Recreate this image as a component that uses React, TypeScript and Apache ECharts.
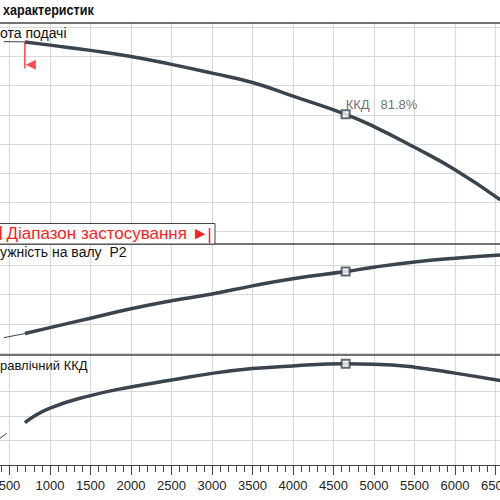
import { useEffect, useRef } from 'react'
import * as echarts from 'echarts'

// flow along the bottom axis, one value per curve point
const flowQ = [690, 1000, 1500, 2000, 2500, 3000, 3500, 4000, 4650, 5000, 5500, 6000, 6560]
const headH = [65.0, 63.9, 62.1, 60.0, 57.3, 54.3, 51.1, 46.4, 40.2, 36.0, 28.9, 21.2, 10.9]
const powerP = [6.7, 8.7, 11.9, 15.1, 17.8, 20.1, 22.85, 25.3, 27.7, 29.2, 30.95, 32.25, 33.3]
const effE = [34.7, 46.5, 56.8, 63.9, 69.5, 75.0, 78.9, 81.1, 82.8, 82.5, 80.1, 75.2, 69.1]

// thin lead-in parts left of the application range
const headLowQ = [432, 690]
const headLow = [65.1, 65.0]
const powerLowQ = [432, 690]
const powerLow = [5.3, 6.7]
const effLowQ = [383, 465]
const effLow = [21.9, 26.0]

// duty point
const dutyQ = 4650
const dutyH = 40.2
const dutyP = 27.7
const dutyE = 82.8
const dutyLabel = 'ККД   81.8%'

// range start marker
const rangeQ = 690
const rangeTop = 65.0
const rangeBottom = 56.0
const arrowQ = 763
const arrowH = 57.2

const DARK = '#3a444e'
const GRID = '#d9d9d9'
const RED = '#ff2020'
const FONT = '"Liberation Sans", Arial, sans-serif'

// the picture is a crop: the chart is wider than the window and shifted left
const SHIFT = 31
const CHART_W = 567

const zip = (xs: number[], ys: number[]) => xs.map((x, i) => [x, ys[i]])

export default function App() {
  const ref = useRef<HTMLDivElement>(null)

  useEffect(() => {
    if (!ref.current) return
    const chart = echarts.init(ref.current, null, { renderer: 'svg' })

    const pos = { left: 0, right: 0 }
    const hiddenX = (i: number) => ({ gridIndex: i, type: 'value' as const, min: 0, max: 7000, interval: 500, show: false })
    const panelY = (i: number, max: number, interval: number) => ({
      gridIndex: i, type: 'value' as const, min: 0, max, interval,
      axisLabel: { show: false }, axisLine: { show: false }, axisTick: { show: false },
      splitLine: { show: true, lineStyle: { color: GRID, width: 1.2 } },
    })
    const curve = (idx: number, data: number[][], width: number) => ({
      type: 'line' as const, xAxisIndex: idx, yAxisIndex: idx, data, smooth: width > 2, symbol: 'none', clip: false,
      lineStyle: { color: DARK, width }, z: 3,
    })
    const duty = (idx: number, q: number, v: number, label?: string) => ({
      type: 'scatter' as const, xAxisIndex: idx, yAxisIndex: idx, data: [[q, v]], symbol: 'rect', symbolSize: 8, clip: false,
      itemStyle: { color: '#fff', borderColor: DARK, borderWidth: 2 }, z: 5,
      label: label ? { show: true, formatter: label, position: [5, -5], align: 'left', verticalAlign: 'middle', color: '#454a50', fontSize: 13, fontFamily: FONT } : { show: false },
    })
    const text = (x: number, y: number, t: string, extra: any = {}, scaleX = 1) => ({
      type: 'text', x: x + SHIFT, y, z: 30, scaleX,
      style: { text: t, fill: '#111', fontSize: 13, fontFamily: FONT, verticalAlign: 'middle', ...extra },
    })
    const seg = (x1: number, y1: number, x2: number, y2: number, stroke: string, lineWidth: number) => ({
      type: 'line', z: 30, shape: { x1: x1 + SHIFT, y1, x2: x2 + SHIFT, y2 }, style: { stroke, lineWidth },
    })
    const hline = (y: number) => ({ ...seg(0, y, 500, y, '#444', 1.3), z: 25 })

    chart.setOption({
      animation: false,
      backgroundColor: '#fff',
      grid: [
        { ...pos, top: 23, bottom: 35 },
        { ...pos, top: 27.3, bottom: 268.3 },
        { ...pos, top: 264.8, bottom: 146.7 },
        { ...pos, top: 391.7, bottom: 35 },
      ],
      xAxis: [
        {
          gridIndex: 0, type: 'value', min: 0, max: 7000, interval: 500,
          axisLine: { lineStyle: { color: '#444', width: 1.2 } },
          axisTick: { show: true, length: 10, lineStyle: { color: '#444' } },
          minorTick: { show: true, splitNumber: 5, length: 7, lineStyle: { color: '#444' } },
          axisLabel: {
            color: '#222', fontSize: 13, fontFamily: FONT, margin: 14, showMinLabel: false, showMaxLabel: false,
            formatter: (v: number) => String(v),
          },
          splitLine: { show: true, lineStyle: { color: GRID, width: 1.2 } },
        },
        hiddenX(1), hiddenX(2), hiddenX(3),
      ],
      yAxis: [
        { gridIndex: 0, type: 'value', min: 0, max: 1, show: false },
        panelY(1, 70, 10),
        panelY(2, 30, 10),
        panelY(3, 60, 20),
      ],
      series: [
        curve(1, zip(headLowQ, headLow), 1),
        curve(1, zip(flowQ, headH), 3.5),
        curve(2, zip(powerLowQ, powerLow), 1),
        curve(2, zip(flowQ, powerP), 3.5),
        curve(3, zip(effLowQ, effLow), 1),
        curve(3, zip(flowQ, effE), 3.5),
        duty(1, dutyQ, dutyH, dutyLabel),
        duty(2, dutyQ, dutyP),
        duty(3, dutyQ, dutyE),
        {
          type: 'line', xAxisIndex: 1, yAxisIndex: 1, data: [[rangeQ, rangeTop], [rangeQ, rangeBottom]],
          symbol: 'none', clip: false, lineStyle: { color: RED, width: 1.3 }, z: 4,
        },
        {
          type: 'scatter', xAxisIndex: 1, yAxisIndex: 1, data: [[arrowQ, arrowH]], symbol: 'triangle',
          symbolRotate: 90, symbolSize: [10, 10], itemStyle: { color: RED }, z: 4,
        },
      ],
      graphic: [
        text(3, 10, 'характеристик', { fontSize: 15, fontWeight: 'bold' }, 0.84),
        hline(23), hline(244), hline(355),
        text(0, 33, 'ота подачі', { fontSize: 14 }),
        text(0, 252, 'ужність на валу  P2', { fontSize: 14 }),
        text(0, 365, 'равлічний ККД'),
        { type: 'rect', z: 26, shape: { x: SHIFT - 2, y: 223.5, width: 217, height: 20.5 }, style: { fill: '#fff', stroke: '#444', lineWidth: 1 } },
        text(6.5, 233.5, 'Діапазон застосування ►', { fill: RED, fontSize: 17 }),
        seg(209.5, 228, 209.5, 243, RED, 1.5),
        seg(0.8, 226, 0.8, 240, RED, 1.5),
      ],
    })

    return () => chart.dispose()
  }, [])

  return (
    <div style={{ position: 'fixed', left: 0, top: 0, width: 500, height: 500, overflow: 'hidden', background: '#fff' }}>
      <div ref={ref} style={{ position: 'absolute', left: -SHIFT, top: 0, width: CHART_W, height: 500 }} />
    </div>
  )
}
